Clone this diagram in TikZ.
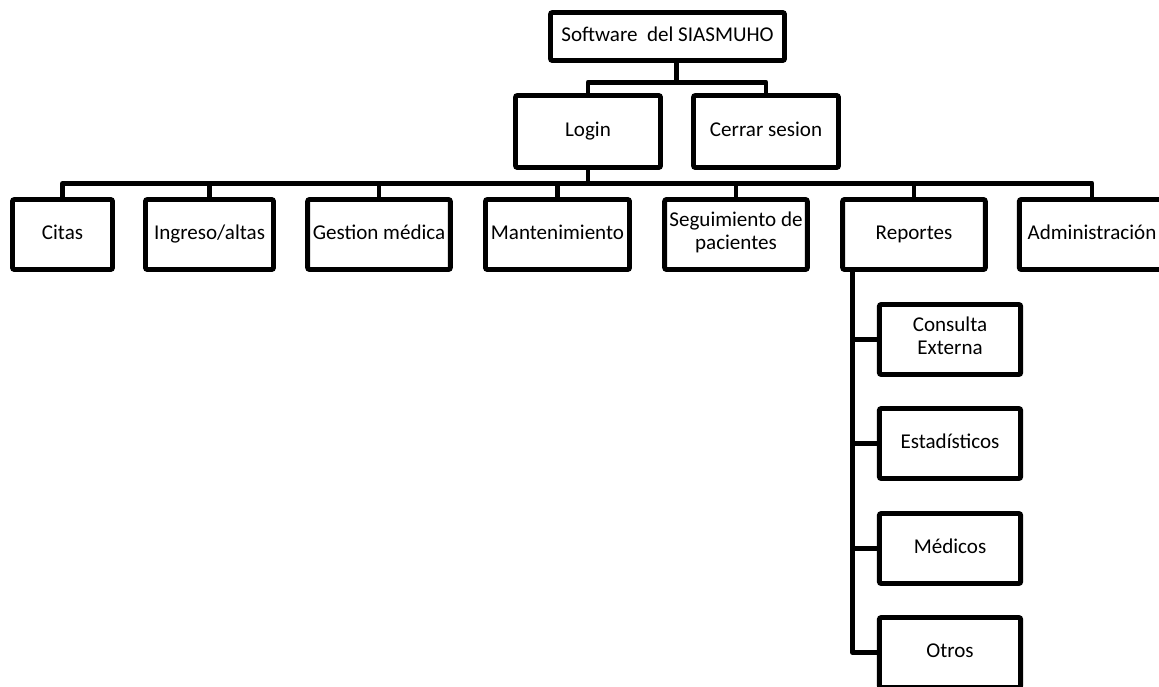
\documentclass[tikz,border=0pt]{standalone}
\usepackage{fontspec}
\setmainfont{Carlito}
\usetikzlibrary{calc}

\begin{document}
\begin{tikzpicture}[
  x=0.75pt, y=-0.75pt,
  every node/.style={font=\fontsize{15.8}{17.5}\selectfont},
  modbox/.style={draw,line width=3.7pt,rounded corners=1.5pt,fill=white,
                 minimum width=107pt,minimum height=52.5pt,align=center,inner sep=2pt,
                 execute at begin node=\strut,execute at end node=\strut},
  link/.style={line width=3.7pt,line join=round},
]
  \useasboundingbox (0,0) rectangle (1159,686);
  \clip (0,0) rectangle (1159,686);

  % Root of the system
  \node[modbox,minimum width=175.5pt,minimum height=36pt] (root) at (667.5,36.5) {Software\ \ del SIASMUHO};

  % Session level
  \node[modbox,minimum width=108.75pt,minimum height=54pt] (login) at (588,131.5) {Login};
  \node[modbox,minimum width=108.75pt,minimum height=54pt] (logout) at (766,131.5) {Cerrar sesion};

  % Main modules
  \node[modbox,minimum width=75pt] (citas) at (62.5,234.5) {Citas};
  \node[modbox,minimum width=96pt] (ingreso) at (209.5,234.5) {Ingreso/altas};
  \node[modbox] (gestion) at (379,234.5) {Gestion médica};
  \node[modbox,minimum width=108pt] (mant) at (557.5,234.5) {Mantenimiento};
  \node[modbox] (seg) at (736,234.5) {Seguimiento de\\pacientes};
  \node[modbox] (rep) at (914,234.5) {Reportes};
  \node[modbox,minimum width=109pt] (admin) at (1092,234.5) {Administración};

  % Report types
  \node[modbox,minimum width=106pt] (consulta) at (950,339.5) {Consulta\\Externa};
  \node[modbox,minimum width=106pt] (estad) at (950,443.5) {Estadísticos};
  \node[modbox,minimum width=106pt] (medicos) at (950,548.5) {Médicos};
  \node[modbox,minimum width=106pt] (otros) at (950,652.5) {Otros};

  % Root -> session
  \draw[link] ([xshift=7pt]root.south) -- ++(0,19.5) coordinate (rootfork);
  \draw[link] (login.north) |- (rootfork) -| (logout.north);

  % Login -> modules
  \draw[link] (login.south) -- ++(0,13.5) coordinate (loginfork);
  \draw[link] (citas.north) |- (loginfork) -| (admin.north);
  \foreach \m in {ingreso,gestion,mant,seg,rep}
    \draw[link] (\m.north) -- (\m.north |- loginfork);

  % Reportes -> report types
  \coordinate (spine) at ([xshift=9.4pt]rep.south west);
  \draw[link] (spine) |- (otros.west);
  \foreach \s in {consulta,estad,medicos}
    \draw[link] (\s.west) -- (\s.west -| spine);
\end{tikzpicture}
\end{document}
